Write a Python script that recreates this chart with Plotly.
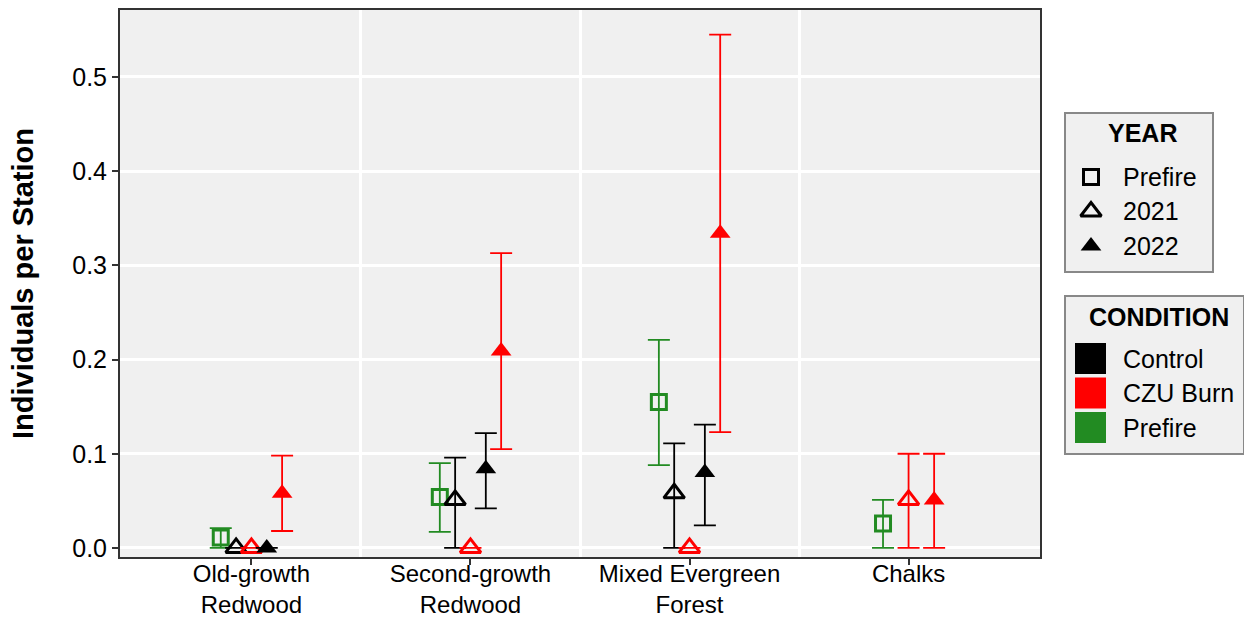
import plotly.graph_objects as go

# ---------------- data ----------------
categories = ["Old-growth<br>Redwood", "Second-growth<br>Redwood", "Mixed Evergreen<br>Forest", "Chalks"]
y_ticks = [0.0, 0.1, 0.2, 0.3, 0.4, 0.5]

groups = ["Prefire", "Control 2021", "CZU 2021", "Control 2022", "CZU 2022"]

prefire_mean = [0.011, 0.054, 0.155, 0.026]
prefire_low = [0.0, 0.017, 0.088, 0.0]
prefire_high = [0.021, 0.090, 0.221, 0.051]

control21_mean = [0.0, 0.051, 0.058, None]
control21_low = [None, 0.0, 0.0, None]
control21_high = [None, 0.096, 0.111, None]

czu21_mean = [0.0, 0.0, 0.0, 0.051]
czu21_low = [None, None, None, 0.0]
czu21_high = [None, None, None, 0.100]

control22_mean = [0.0, 0.084, 0.080, None]
control22_low = [None, 0.042, 0.024, None]
control22_high = [None, 0.122, 0.131, None]

czu22_mean = [0.058, 0.209, 0.334, 0.051]
czu22_low = [0.018, 0.105, 0.123, 0.0]
czu22_high = [0.098, 0.313, 0.545, 0.100]

year_labels = ["Prefire", "2021", "2022"]
condition_labels = ["Control", "CZU Burn", "Prefire"]

# ---------------- styles ----------------
GREEN = "#228B22"
RED = "#FF0000"
BLACK = "#000000"
PANEL = "#F0F0F0"
FONT = "Liberation Sans, Arial, sans-serif"
DODGE = 0.35
TXT = 25

series = [
    dict(name="Prefire", mean=prefire_mean, lo=prefire_low, hi=prefire_high, color=GREEN, symbol="square-open", size=15),
    dict(name="Control 2021", mean=control21_mean, lo=control21_low, hi=control21_high, color=BLACK, symbol="triangle-up-open", size=18),
    dict(name="CZU 2021", mean=czu21_mean, lo=czu21_low, hi=czu21_high, color=RED, symbol="triangle-up-open", size=18),
    dict(name="Control 2022", mean=control22_mean, lo=control22_low, hi=control22_high, color=BLACK, symbol="triangle-up", size=18),
    dict(name="CZU 2022", mean=czu22_mean, lo=czu22_low, hi=czu22_high, color=RED, symbol="triangle-up", size=18),
]

# dodge positions (like ggplot position_dodge) computed per category
n_cat = len(categories)
present = [[k for k, s in enumerate(series) if s["mean"][c] is not None] for c in range(n_cat)]

fig = go.Figure()
for k, s in enumerate(series):
    xs, ys, plus, minus = [], [], [], []
    for c in range(n_cat):
        if s["mean"][c] is None:
            continue
        grp = present[c]
        n = len(grp)
        idx = grp.index(k)
        off = (idx - (n - 1) / 2) * DODGE / n
        xs.append(c + 1 + off)
        m = s["mean"][c]
        ys.append(m)
        plus.append(None if s["hi"][c] is None else s["hi"][c] - m)
        minus.append(None if s["lo"][c] is None else m - s["lo"][c])
    open_sym = s["symbol"].endswith("open")
    fig.add_trace(go.Scatter(
        x=xs, y=ys, mode="markers", name=s["name"], showlegend=False,
        marker=dict(symbol=s["symbol"], size=s["size"], color=s["color"],
                    line=dict(color=s["color"], width=3 if open_sym else 0)),
        error_y=dict(type="data", symmetric=False, array=plus, arrayminus=minus,
                     color=s["color"], thickness=1.8, width=11),
        xaxis="x", yaxis="y",
    ))

# ---------------- layout geometry ----------------
W, H = 1244, 618
ML, MR, MT, MB = 120, 0, 10, 61
PW = W - ML - MR
PH = H - MT - MB


def px_x(p):
    return (p - ML) / PW


def px_y(p):
    return (H - MB - p) / PH


# legend boxes (pixel extents)
year_box = dict(x0=1066, x1=1212, y0=114, y1=271)
cond_box = dict(x0=1066, x1=1243, y0=297, y1=453)

row_gap = 34.5
# YEAR glyphs
year_symbols = ["square-open", "triangle-up-open", "triangle-up"]
year_sizes = [15, 18, 18]
year_rows = [177 + i * row_gap for i in range(len(year_labels))]
for sym, sz, yy in zip(year_symbols, year_sizes, year_rows):
    fig.add_trace(go.Scatter(
        x=[1091], y=[yy], mode="markers", showlegend=False, hoverinfo="skip",
        marker=dict(symbol=sym, size=sz, color=BLACK,
                    line=dict(color=BLACK, width=3 if sym.endswith("open") else 0)),
        xaxis="x2", yaxis="y2",
    ))

cond_colors = [BLACK, RED, GREEN]
cond_rows = [358.5 + i * row_gap for i in range(len(condition_labels))]
for col, yy in zip(cond_colors, cond_rows):
    fig.add_trace(go.Scatter(
        x=[1090.5], y=[yy], mode="markers", showlegend=False, hoverinfo="skip",
        marker=dict(symbol="square", size=31, color=col, line=dict(width=0)),
        xaxis="x3", yaxis="y3",
    ))

annotations = []
annotations.append(dict(text="<b>YEAR</b>", x=(year_box["x0"] + year_box["x1"]) / 2 + 3, y=133,
                        xref="x2", yref="y2", showarrow=False, xanchor="center", yanchor="middle",
                        font=dict(size=TXT, color=BLACK, family=FONT)))
for lab, yy in zip(year_labels, year_rows):
    annotations.append(dict(text=lab, x=1121, y=yy, xref="x2", yref="y2", showarrow=False,
                            xanchor="left", yanchor="middle", font=dict(size=TXT, color=BLACK, family=FONT)))
annotations.append(dict(text="<b>CONDITION</b>", x=(cond_box["x0"] + cond_box["x1"]) / 2 + 4, y=317,
                        xref="x3", yref="y3", showarrow=False, xanchor="center", yanchor="middle",
                        font=dict(size=TXT, color=BLACK, family=FONT)))
for lab, yy in zip(condition_labels, cond_rows):
    annotations.append(dict(text=lab, x=1121, y=yy, xref="x3", yref="y3", showarrow=False,
                            xanchor="left", yanchor="middle", font=dict(size=TXT, color=BLACK, family=FONT)))

box_axis = dict(showgrid=False, zeroline=False, showticklabels=False, ticks="", automargin=False,
                showline=True, mirror=True, linecolor="#888888", linewidth=2, fixedrange=True)

fig.update_layout(
    template="none",
    width=W, height=H,
    margin=dict(l=ML, r=MR, t=MT, b=MB, pad=0, autoexpand=False),
    paper_bgcolor="white",
    plot_bgcolor=PANEL,
    font=dict(family=FONT, size=TXT, color=BLACK),
    annotations=annotations,
    xaxis=dict(
        domain=[0, px_x(1040)], range=[0.4, n_cat + 0.6], automargin=False,
        tickmode="array", tickvals=list(range(1, n_cat + 1)), ticktext=categories,
        tickfont=dict(size=24, color=BLACK, family=FONT), ticklabelstandoff=-12,
        ticks="outside", ticklen=6, tickwidth=1.5, tickcolor="#333333",
        showline=True, mirror=True, linecolor="#333333", linewidth=2,
        showgrid=False, zeroline=False,
        minor=dict(tickmode="array", tickvals=[c + 1.5 for c in range(n_cat - 1)],
                   showgrid=True, gridcolor="white", gridwidth=3, ticks=""),
        anchor="y",
    ),
    yaxis=dict(
        domain=[0, 1], range=[-0.0096, 0.5711], automargin=False,
        tickmode="array", tickvals=y_ticks, ticktext=[f"{v:.1f}" for v in y_ticks],
        tickfont=dict(size=TXT, color=BLACK, family=FONT),
        ticks="outside", ticklen=6, tickwidth=1.5, tickcolor="#333333",
        showline=True, mirror=True, linecolor="#333333", linewidth=2,
        showgrid=True, gridcolor="white", gridwidth=2.5, zeroline=False,
        title=dict(text="<b>Individuals per Station</b>", font=dict(size=29, color=BLACK, family=FONT), standoff=30),
        anchor="x",
    ),
    xaxis2=dict(domain=[px_x(year_box["x0"]), px_x(year_box["x1"])],
                range=[year_box["x0"], year_box["x1"]], anchor="y2", **box_axis),
    yaxis2=dict(domain=[px_y(year_box["y1"]), px_y(year_box["y0"])],
                range=[year_box["y1"], year_box["y0"]], anchor="x2", **box_axis),
    xaxis3=dict(domain=[px_x(cond_box["x0"]), px_x(cond_box["x1"])],
                range=[cond_box["x0"], cond_box["x1"]], anchor="y3", **box_axis),
    yaxis3=dict(domain=[px_y(cond_box["y1"]), px_y(cond_box["y0"])],
                range=[cond_box["y1"], cond_box["y0"]], anchor="x3", **box_axis),
    showlegend=False,
)

fig.write_html("out.html", include_plotlyjs=True, full_html=True,
               config={"displayModeBar": False},
               post_script="document.body.style.margin='0px'; document.body.style.overflow='hidden';")
